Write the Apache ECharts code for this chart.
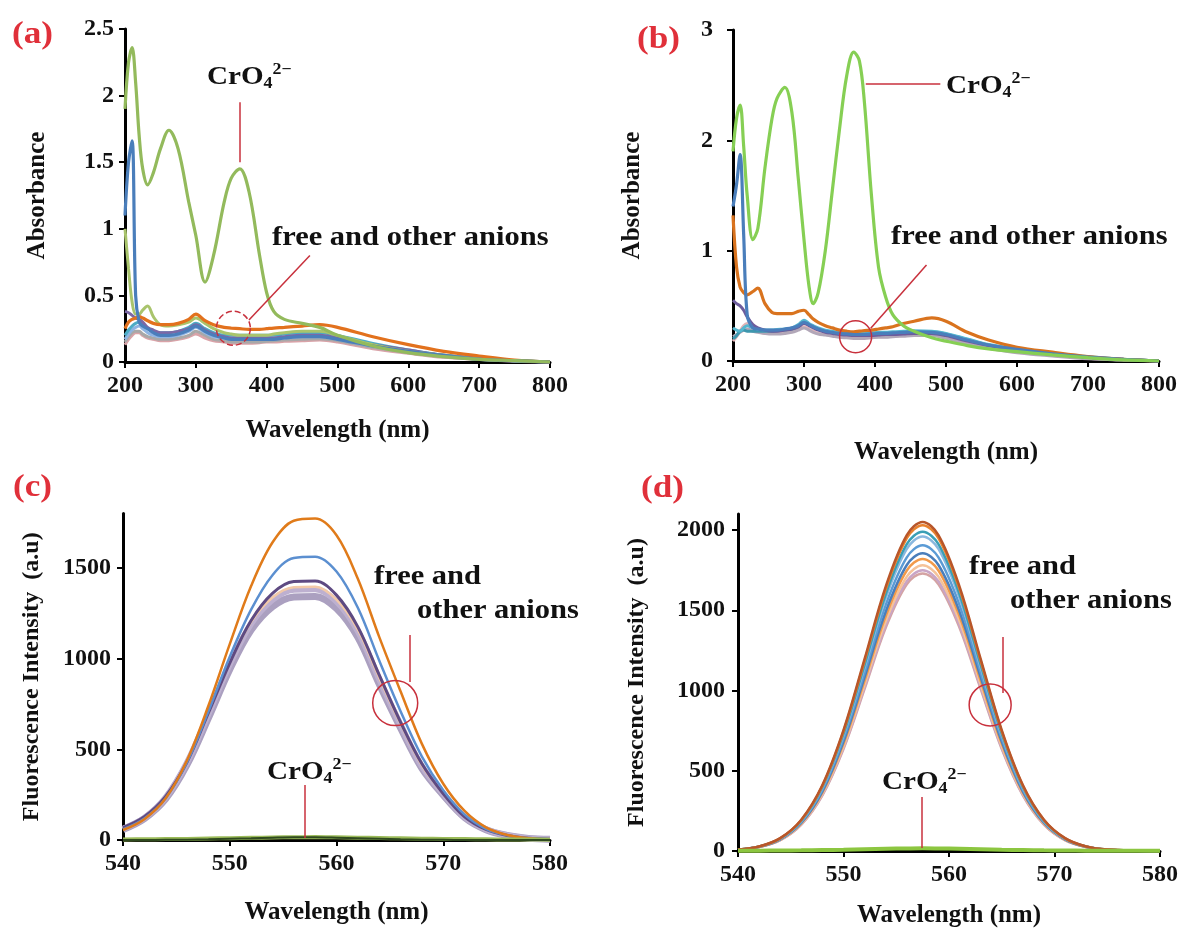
<!DOCTYPE html>
<html><head><meta charset="utf-8">
<script src="https://cdn.jsdelivr.net/npm/echarts@6.0.0/dist/echarts.min.js"></script>
<style>html,body{margin:0;padding:0;background:#fff}#c{width:1181px;height:935px}</style>
</head><body><div id="c"></div>
<script>
// ---------- Panel (a): absorbance, wavelength (nm) ----------
const A_X = [200,205,210,215,220,225,232,240,250,262,275,290,300,313,325,340,350,362,375,390,400,410,425,450,475,500,550,600,650,700,750,800];
const A_CRO4 = [1.9,2.25,2.36,2.1,1.7,1.45,1.33,1.42,1.6,1.74,1.6,1.2,0.95,0.6,0.8,1.2,1.38,1.45,1.28,0.8,0.52,0.38,0.32,0.29,0.26,0.2,0.12,0.07,0.04,0.02,0.01,0];
const A_GREEN2 = [1.0,0.7,0.45,0.36,0.36,0.39,0.42,0.34,0.28,0.27,0.28,0.3,0.33,0.29,0.25,0.22,0.21,0.2,0.2,0.2,0.2,0.21,0.22,0.23,0.23,0.2,0.13,0.08,0.05,0.02,0.01,0];
const A_BLUE = [1.1,1.5,1.66,0.5,0.3,0.27,0.25,0.22,0.2,0.2,0.21,0.24,0.27,0.23,0.2,0.18,0.17,0.17,0.17,0.17,0.17,0.17,0.18,0.19,0.19,0.17,0.12,0.08,0.05,0.02,0.01,0];
const A_ORANGE = [0.25,0.3,0.32,0.33,0.34,0.33,0.31,0.29,0.28,0.28,0.29,0.32,0.36,0.31,0.28,0.26,0.255,0.25,0.245,0.245,0.25,0.255,0.26,0.27,0.28,0.26,0.19,0.13,0.08,0.045,0.015,0];
const A_PURPLE = [0.38,0.37,0.35,0.33,0.32,0.3,0.26,0.24,0.22,0.22,0.23,0.25,0.28,0.24,0.21,0.19,0.18,0.18,0.18,0.18,0.18,0.18,0.19,0.2,0.2,0.18,0.13,0.09,0.05,0.03,0.01,0];
const A_AQUA = [0.2,0.24,0.27,0.29,0.3,0.28,0.25,0.23,0.22,0.22,0.23,0.26,0.29,0.25,0.22,0.2,0.2,0.2,0.2,0.2,0.2,0.2,0.21,0.22,0.22,0.2,0.14,0.09,0.05,0.03,0.01,0];
const A_GRAY = [0.15,0.19,0.22,0.23,0.23,0.21,0.19,0.18,0.17,0.17,0.18,0.2,0.23,0.2,0.17,0.16,0.15,0.15,0.15,0.15,0.155,0.16,0.165,0.17,0.175,0.16,0.11,0.07,0.04,0.02,0.01,0];
const A_PINK = [0.13,0.17,0.2,0.22,0.22,0.2,0.18,0.17,0.16,0.16,0.17,0.19,0.21,0.18,0.16,0.15,0.14,0.14,0.14,0.145,0.15,0.15,0.155,0.16,0.165,0.15,0.1,0.065,0.035,0.02,0.005,0];
const A_LTBLUE = [0.17,0.21,0.24,0.26,0.27,0.25,0.22,0.2,0.19,0.19,0.2,0.23,0.26,0.22,0.19,0.18,0.17,0.17,0.17,0.17,0.17,0.175,0.18,0.19,0.19,0.17,0.12,0.08,0.045,0.025,0.01,0];

// ---------- Panel (b) ----------
const B_X = [200,205,210,215,220,228,235,245,255,262,273,283,292,300,307,313,320,330,340,350,360,370,378,385,395,405,415,425,440,455,480,500,530,560,600,650,700,750,800];
const B_CRO4 = [1.9,2.2,2.32,1.95,1.5,1.1,1.2,1.75,2.2,2.38,2.48,2.25,1.65,1.1,0.68,0.52,0.62,1.0,1.55,2.1,2.58,2.8,2.72,2.35,1.5,0.85,0.58,0.42,0.32,0.27,0.21,0.18,0.14,0.11,0.085,0.055,0.03,0.01,0];
const B_BLUE = [1.4,1.6,1.87,1.15,0.42,0.3,0.29,0.28,0.28,0.28,0.29,0.3,0.32,0.35,0.33,0.31,0.29,0.27,0.26,0.25,0.245,0.24,0.24,0.24,0.245,0.25,0.25,0.255,0.26,0.265,0.26,0.24,0.19,0.145,0.105,0.065,0.035,0.015,0];
const B_ORANGE = [1.32,0.85,0.67,0.62,0.6,0.63,0.66,0.52,0.44,0.43,0.43,0.43,0.45,0.46,0.42,0.38,0.35,0.32,0.3,0.28,0.27,0.265,0.27,0.275,0.28,0.29,0.3,0.31,0.34,0.36,0.39,0.36,0.26,0.19,0.125,0.08,0.04,0.015,0];
const B_PURPLE = [0.55,0.52,0.5,0.46,0.4,0.33,0.3,0.28,0.27,0.27,0.28,0.29,0.31,0.34,0.32,0.3,0.28,0.26,0.25,0.24,0.235,0.23,0.23,0.23,0.23,0.235,0.24,0.24,0.245,0.25,0.25,0.23,0.18,0.14,0.1,0.065,0.035,0.015,0];
const B_AQUA = [0.3,0.28,0.27,0.3,0.32,0.3,0.29,0.28,0.28,0.285,0.29,0.3,0.33,0.37,0.34,0.32,0.3,0.28,0.27,0.26,0.255,0.25,0.25,0.25,0.255,0.26,0.26,0.265,0.27,0.275,0.27,0.25,0.2,0.15,0.11,0.07,0.04,0.015,0];
const B_TEAL = [0.2,0.23,0.27,0.28,0.27,0.27,0.27,0.27,0.27,0.275,0.28,0.29,0.31,0.35,0.33,0.31,0.29,0.27,0.26,0.25,0.245,0.24,0.24,0.24,0.245,0.25,0.25,0.255,0.26,0.265,0.265,0.245,0.195,0.145,0.105,0.065,0.035,0.015,0];
const B_PINK = [0.18,0.22,0.27,0.32,0.34,0.3,0.27,0.25,0.25,0.25,0.26,0.27,0.29,0.31,0.29,0.27,0.25,0.24,0.23,0.22,0.215,0.21,0.21,0.21,0.215,0.22,0.22,0.225,0.23,0.235,0.235,0.21,0.16,0.12,0.08,0.05,0.025,0.01,0];
const B_GRAY = [0.22,0.24,0.26,0.28,0.29,0.27,0.26,0.25,0.245,0.245,0.25,0.26,0.28,0.3,0.28,0.26,0.245,0.235,0.225,0.215,0.21,0.205,0.205,0.205,0.21,0.215,0.215,0.22,0.225,0.23,0.23,0.205,0.155,0.115,0.075,0.045,0.02,0.008,0];

// ---------- Panel (c): fluorescence ----------
const C_X = [540,542,544,546,548,550,552,554,556,558,560,562,564,566,568,570,572,574,576,578,580];
const C_ORANGE = [55,115,230,440,740,1080,1400,1640,1760,1772,1680,1440,1120,820,530,310,160,70,28,10,4];
const C_BLUE = [58,118,230,430,710,1010,1270,1460,1555,1562,1480,1280,990,710,460,275,140,62,26,9,4];
const C_PURPLE = [68,128,240,430,700,975,1210,1360,1425,1428,1350,1175,910,650,420,255,128,58,25,9,4];
const C_TAN = [63,123,237,432,700,976,1203,1337,1393,1396,1325,1160,895,642,412,255,128,59,25,9,4];
const C_BAND1 = [62,122,235,428,693,968,1192,1324,1380,1383,1314,1151,886,636,407,255,127,59,25,9,4];
const C_BAND2 = [58,118,227,415,672,940,1157,1286,1340,1343,1276,1117,860,618,395,247,124,57,25,9,4];
const C_CRO4 = [3,4,5,6,8,10,12,14,15,16,15,13,11,9,7,6,5,4,3,3,2];
const C_CRO4_DARK = [0,0,1,2,4,7,10,13,15,15,13,10,7,4,2,1,0,0,0,0,0];

// ---------- Panel (d) ----------
const D_X = [540,542,544,546,548,550,552,554,556,557.5,559,561,563,565,567,569,571,573,575,580];
const D_S1 = [9,28,80,195,411,753,1197,1648,1969,2050,1969,1648,1197,753,411,195,80,28,9,0];
const D_S2 = [9,28,79,193,407,746,1185,1632,1950,2030,1950,1632,1185,746,407,193,79,28,9,0];
const D_S3 = [9,28,78,189,399,731,1162,1600,1912,1990,1912,1600,1162,731,399,189,78,28,9,0];
const D_S4 = [8,27,76,186,393,720,1144,1576,1883,1960,1883,1576,1144,720,393,186,76,27,8,0];
const D_S5 = [8,26,74,181,382,700,1112,1532,1830,1905,1830,1532,1112,700,382,181,74,26,8,0];
const D_S6 = [8,26,72,176,372,682,1083,1491,1782,1855,1782,1491,1083,682,372,176,72,26,8,0];
const D_S7 = [8,25,71,173,365,669,1062,1463,1748,1820,1748,1463,1062,669,365,173,71,25,8,0];
const D_S8 = [8,25,69,169,357,654,1039,1431,1710,1780,1710,1431,1039,654,357,169,69,25,8,0];
const D_S9 = [8,24,68,166,351,643,1021,1407,1681,1750,1681,1407,1021,643,351,166,68,24,8,0];
const D_S10 = [7,24,67,164,347,636,1010,1391,1662,1730,1662,1391,1010,636,347,164,67,24,7,0];
const D_CRO4 = [2,2,3,4,6,8,11,14,16,17,16,14,11,8,6,4,3,2,2,1];

// ---------- tick labels ----------
const C_YTICKS = [0,500,1000,1500];
const D_YTICKS = [0,500,1000,1500,2000];

const FONT = 'Liberation Serif';
const RED = '#C8303C';
const LETTER_RED = '#E0303A';

function zip(x, y) { return x.map((v, i) => [v, y[i]]); }
const plain = v => String(v);

function xAxisCfg(gi, min, max, interval, nameGap) {
  return {
    type: 'value', gridIndex: gi, min: min, max: max, interval: interval,
    name: 'Wavelength (nm)', nameLocation: 'middle', nameGap: nameGap,
    nameTextStyle: { fontFamily: FONT, fontWeight: 'bold', fontSize: 25, color: '#111' },
    axisLine: { show: true, onZero: false, lineStyle: { color: '#000', width: 3 } },
    axisTick: { show: true, length: 6, lineStyle: { color: '#000', width: 2 } },
    axisLabel: { fontFamily: FONT, fontWeight: 'bold', fontSize: 24, color: '#111', margin: 12, formatter: plain },
    splitLine: { show: false }
  };
}
function yAxisCfg(gi, min, max, interval, name, nameGap, margin, nameSize, custom) {
  const cfg = {
    type: 'value', gridIndex: gi, min: min, max: max, interval: interval,
    name: name, nameLocation: 'middle', nameGap: nameGap, nameRotate: 90,
    nameTextStyle: { fontFamily: FONT, fontWeight: 'bold', fontSize: nameSize, color: '#111' },
    axisLine: { show: true, onZero: false, lineStyle: { color: '#000', width: 3 } },
    axisTick: { show: true, length: 6, lineStyle: { color: '#000', width: 2 } },
    axisLabel: { fontFamily: FONT, fontWeight: 'bold', fontSize: 24, color: '#111', margin: margin, formatter: plain },
    splitLine: { show: false }
  };
  if (custom) {
    cfg.axisLabel.customValues = custom;
    cfg.axisTick.customValues = custom;
  }
  return cfg;
}

function line(gi, x, y, color, width, z, extra) {
  const s = {
    type: 'line', xAxisIndex: gi, yAxisIndex: gi, data: zip(x, y),
    showSymbol: false, symbol: 'none', smooth: 0.35,
    lineStyle: { color: color, width: width }, itemStyle: { color: color },
    silent: true, z: z || 2, animation: false
  };
  if (extra) Object.assign(s, extra);
  return s;
}

function marks(lines, circles) {
  return {
    markLine: {
      silent: true, symbol: ['none', 'none'], animation: false,
      label: { show: false },
      lineStyle: { color: RED, width: 1.5, type: 'solid' },
      data: lines.map(l => [{ coord: l[0] }, { coord: l[1] }])
    },
    markPoint: {
      silent: true, animation: false,
      data: circles.map(c => ({
        coord: c.at, symbol: 'circle', symbolSize: c.size,
        itemStyle: { color: 'rgba(0,0,0,0)', borderColor: RED, borderWidth: 1.5, borderType: c.dash ? 'dashed' : 'solid' },
        label: { show: false }
      }))
    }
  };
}

const series = [
  // (a)
  line(0, A_X, A_PINK, '#D9A3A8', 3),
  line(0, A_X, A_GRAY, '#A8A8A8', 3),
  line(0, A_X, A_LTBLUE, '#8EB4E3', 3),
  line(0, A_X, A_AQUA, '#4BACC6', 3),
  line(0, A_X, A_PURPLE, '#7B68A6', 3),
  line(0, A_X, A_GREEN2, '#A9C46C', 3),
  line(0, A_X, A_ORANGE, '#E2711D', 3.2),
  line(0, A_X, A_BLUE, '#4A7EBB', 3.2),
  line(0, A_X, A_CRO4, '#93BA5C', 3.2, 3, marks(
    [[[361.4, 1.5], [361.4, 1.95]], [[375, 0.315], [461, 0.80]]],
    [{ at: [353, 0.253], size: 34, dash: true }])),
  // (b)
  line(1, B_X, B_PINK, '#E3B4B6', 3),
  line(1, B_X, B_GRAY, '#B2A7B8', 3),
  line(1, B_X, B_TEAL, '#3E97AE', 3),
  line(1, B_X, B_AQUA, '#55B7CF', 3),
  line(1, B_X, B_PURPLE, '#6D5C9C', 3),
  line(1, B_X, B_ORANGE, '#D9731E', 3.2),
  line(1, B_X, B_BLUE, '#4A7EBB', 3.2),
  line(1, B_X, B_CRO4, '#86CF54', 3.2, 3, marks(
    [[[387, 2.51], [492, 2.51]], [[394, 0.296], [472.5, 0.87]]],
    [{ at: [372.7, 0.22], size: 32, dash: false }])),
  // (c)
  line(2, C_X, C_BAND2, '#ABA0C0', 7),
  line(2, C_X, C_BAND1, '#BDB0D0', 6),
  line(2, C_X, C_TAN, '#F2C9A8', 2.5),
  line(2, C_X, C_PURPLE, '#5E4A82', 3),
  line(2, C_X, C_BLUE, '#5B8FD0', 2.5),
  line(2, C_X, C_ORANGE, '#E07B1A', 2.5),
  line(2, C_X, C_CRO4, '#9BBB59', 4),
  line(2, C_X, C_CRO4_DARK, '#2F4A1F', 2, 3, marks(
    [[[566.9, 1130], [566.9, 871]], [[557, 303], [557, 11]]],
    [{ at: [565.5, 755], size: 45, dash: false }])),
  // (d)
  line(3, D_X, D_S10, '#D4A3A3', 2.5),
  line(3, D_X, D_S9, '#C9A5C6', 2.5),
  line(3, D_X, D_S8, '#F5C39A', 2.5),
  line(3, D_X, D_S7, '#F29A4A', 2.5),
  line(3, D_X, D_S6, '#4A7EBB', 2.5),
  line(3, D_X, D_S5, '#5B9BD5', 2.5),
  line(3, D_X, D_S4, '#8AB8DF', 2.5),
  line(3, D_X, D_S3, '#3A9FB5', 2.5),
  line(3, D_X, D_S2, '#E8822E', 2.5),
  line(3, D_X, D_S1, '#B8562A', 2.5),
  line(3, D_X, D_CRO4, '#8CC640', 4, 3, marks(
    [[[565.1, 1333], [565.1, 985]], [[557.4, 336], [557.4, 19]]],
    [{ at: [563.9, 910], size: 42, dash: false }]))
];

function txt(x, y, text, size, color, scaleX) {
  return {
    type: 'text', x: x, y: y, scaleX: scaleX || 1, silent: true, z: 50,
    style: { text: text, fontFamily: FONT, fontWeight: 'bold', fontSize: size, fill: color || '#111',
             textAlign: 'left', textVerticalAlign: 'middle' }
  };
}
function cro4(x, y) {
  return {
    type: 'text', x: x, y: y, scaleX: 1.12, silent: true, z: 50,
    style: {
      text: '{m|CrO}{s|4}{p|2\u2212}', fill: '#111', textAlign: 'left', textVerticalAlign: 'middle',
      fontFamily: FONT, fontWeight: 'bold', fontSize: 26,
      rich: {
        m: { fontFamily: FONT, fontWeight: 'bold', fontSize: 26, lineHeight: 30, verticalAlign: 'middle', fill: '#111' },
        s: { fontFamily: FONT, fontWeight: 'bold', fontSize: 16, lineHeight: 20, verticalAlign: 'bottom', fill: '#111' },
        p: { fontFamily: FONT, fontWeight: 'bold', fontSize: 16, lineHeight: 18, verticalAlign: 'top', fill: '#111' }
      }
    }
  };
}

const graphics = [
  txt(12, 35, '(a)', 32, LETTER_RED, 1.1),
  txt(637, 40, '(b)', 32, LETTER_RED, 1.1),
  txt(13, 488, '(c)', 32, LETTER_RED, 1.1),
  txt(641, 489, '(d)', 32, LETTER_RED, 1.1),
  cro4(207, 77), cro4(946, 86), cro4(267, 772), cro4(882, 782),
  txt(272, 238, 'free and other anions', 27, '#111', 1.13),
  txt(891, 237, 'free and other anions', 27, '#111', 1.13),
  txt(374, 577, 'free and', 27, '#111', 1.13),
  txt(417, 611, 'other anions', 27, '#111', 1.13),
  txt(969, 567, 'free and', 27, '#111', 1.13),
  txt(1010, 601, 'other anions', 27, '#111', 1.13)
];

const option = {
  backgroundColor: '#fff',
  animation: false,
  grid: [
    { left: 125, top: 29, width: 425, height: 333, outerBoundsMode: 'none', containLabel: false },
    { left: 733, top: 30, width: 426, height: 331, outerBoundsMode: 'none', containLabel: false },
    { left: 123, top: 513.5, width: 427, height: 326.5, outerBoundsMode: 'none', containLabel: false },
    { left: 738, top: 514, width: 422, height: 337, outerBoundsMode: 'none', containLabel: false }
  ],
  xAxis: [
    xAxisCfg(0, 200, 800, 100, 56),
    xAxisCfg(1, 200, 800, 100, 79),
    xAxisCfg(2, 540, 580, 10, 60),
    xAxisCfg(3, 540, 580, 10, 52)
  ],
  yAxis: [
    yAxisCfg(0, 0, 2.5, 0.5, 'Absorbance', 75, 11, 25),
    yAxisCfg(1, 0, 3, 1, 'Absorbance', 88, 20, 25),
    yAxisCfg(2, 0, 1800, 500, 'Fluorescence Intensity  (a.u)', 79, 12, 24, C_YTICKS),
    yAxisCfg(3, 0, 2100, 500, 'Fluorescence Intensity  (a.u)', 89, 13, 24, D_YTICKS)
  ],
  series: series,
  graphic: { elements: graphics }
};

const chart = echarts.init(document.getElementById('c'), null, { renderer: 'canvas' });
chart.setOption(option);
</script>
</body></html>
